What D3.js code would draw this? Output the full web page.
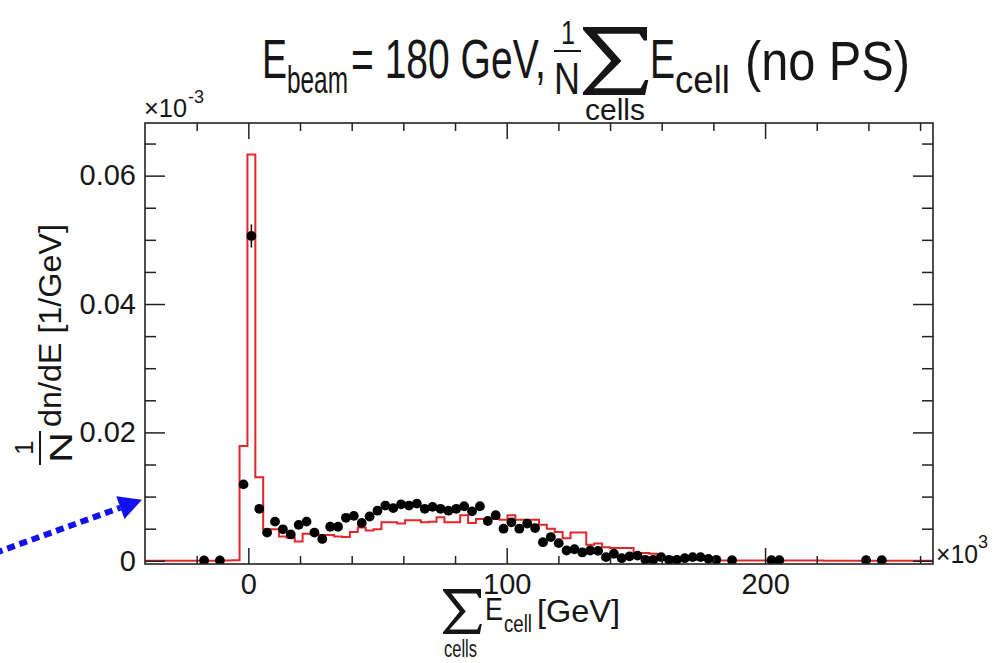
<!DOCTYPE html>
<html><head><meta charset="utf-8">
<script src="https://cdn.jsdelivr.net/npm/d3@7"></script>
<style>
body{margin:0;background:#fff;}
text{font-family:"Liberation Sans",Arial,Helvetica,sans-serif;fill:#161616;}
</style></head><body>
<svg id="c" width="1006" height="663"></svg>
<script>
// ---- binning of the histogram (x in GeV, shown as x10^3 MeV) ----
const binStart = -40, binWidth = 3.05, nBins = 100;

// ---- MC histogram (red), one value per bin, in axis units (x10^-3 1/GeV) ----
const mcValues = [
  0,0,0,0,0,0,0,0,0,0,
  0.00005,0.0001,0.0179,0.0633,0.0130,
  0.0049,0.0049,0.0038,0.0036,0.0030,
  0.0042,0.0042,0.0040,0.0040,0.0038,
  0.0037,0.0045,0.0052,0.0047,0.0049,
  0.0060,0.0060,0.0058,0.0063,0.0063,
  0.0060,0.0061,0.0068,0.0060,0.0060,
  0.0071,0.0059,0.0065,0.0065,0.0065,
  0.0064,0.0071,0.0064,0.0064,0.0064,
  0.0056,0.0050,0.0045,0.0035,0.0044,
  0.0044,0.0025,0.0027,0.0021,0.0020,
  0.0020,0.0020,0.0012,0.0012,0.0011,
  0.0006,0.00045,0.00035,0.00025,0.0002,
  0.00015,0.00012,0.0001,0.00003,0.00003,
  0.00003,0.00003,0.00003,0.00003,0.00003,
  0.00003,0.00003,0.00003,0.00003,0.00003,
  0.00003,0,0,0,0,
  0,0,0,0,0
];

// ---- data points (black): bin index, value, error ----
const dataBins = [7,9,
  12,13,14,15,16,17,18,19,20,21,22,23,24,25,26,27,28,29,30,31,32,33,34,35,36,37,38,39,40,
  41,42,43,44,45,46,47,48,49,50,51,52,53,54,55,56,57,58,59,60,61,62,63,64,65,66,67,68,69,70,71,72,
  74,79,80,91,93];
const dataValues = [0.00005,0.00005,
  0.0119,0.0506,0.0081,0.0044,0.0061,0.0049,0.0041,0.0056,0.0061,0.0044,0.0034,0.0053,0.0053,0.0067,
  0.0070,0.0059,0.0069,0.0078,0.0086,0.0082,0.0088,0.0086,0.0089,0.0081,0.0084,0.0081,0.0078,0.0081,0.0085,
  0.0077,0.0085,0.0062,0.0071,0.0050,0.0060,0.0050,0.0058,0.0051,0.0029,0.0037,0.00275,0.0016,0.0018,0.0013,
  0.0016,0.00155,0.00057,0.0011,0.0004,0.0007,0.0008,0.00015,0.00015,0.00057,0.00015,0.00015,0.0004,0.00057,
  0.00057,0.0003,0.00015,
  0.0001,0.0001,0.0001,0.0001,0.0001];
const dataErrors = dataBins.map(b => b === 13 ? 0.0018 : 0.0004);

// ---- axes ----
const xTicks = [0,100,200], xTickLabels = ["0","100","200"];
const xMinorTicks = [-20,20,40,60,80,120,140,160,180,220,240,260];
const yTicks = [0,0.02,0.04,0.06], yTickLabels = ["0","0.02","0.04","0.06"];
const yMinorTicks = [0.005,0.01,0.015,0.025,0.03,0.035,0.045,0.05,0.055,0.065];

const svg = d3.select("#c");
const F = {l:145, r:933, t:123, b:564};
const x = d3.scaleLinear().domain([-40,265]).range([F.l,F.r]);
const y = d3.scaleLinear().domain([-0.0005,0.0682]).range([F.b,F.t]);
const edges = d3.range(nBins+1).map(i => binStart + i*binWidth);

svg.append("defs").append("clipPath").attr("id","clip")
  .append("rect").attr("x",F.l).attr("y",F.t).attr("width",F.r-F.l).attr("height",F.b-F.t);

// histogram
const hpts = mcValues.map((v,i)=>[edges[i],v]);
hpts.push([edges[nBins], mcValues[nBins-1]]);
svg.append("path").attr("clip-path","url(#clip)")
  .attr("d", d3.line().x(d=>x(d[0])).y(d=>y(d[1])).curve(d3.curveStepAfter)(hpts))
  .attr("fill","none").attr("stroke","#e3262a").attr("stroke-width",2);

// data points
const R = 4.9;
const pts = dataBins.map((b,i)=>({cx:x(edges[b]+binWidth/2), v:dataValues[i], e:dataErrors[i]}));
const gp = svg.append("g").attr("clip-path","url(#clip)");
pts.forEach(p=>{
  const yc=y(p.v), yt=y(p.v+p.e), yb=y(p.v-p.e);
  if (yc-R-yt>0) gp.append("line").attr("x1",p.cx).attr("x2",p.cx).attr("y1",yt).attr("y2",yc-R).attr("stroke","#000").attr("stroke-width",1.5);
  if (yb-(yc+R)>0) gp.append("line").attr("x1",p.cx).attr("x2",p.cx).attr("y1",yc+R).attr("y2",yb).attr("stroke","#000").attr("stroke-width",1.5);
});
gp.selectAll("circle").data(pts).join("circle")
  .attr("cx",d=>d.cx).attr("cy",d=>y(d.v)).attr("r",R).attr("fill","#000");

// axes (ticks inward, ROOT style)
function styleAxis(g, fs){
  g.select(".domain").remove();
  g.selectAll("line").attr("stroke","#222").attr("stroke-width",1.5);
  g.selectAll("text").attr("font-size",fs).attr("fill","#161616")
   .attr("font-family",'"Liberation Sans",Arial,sans-serif');
}
styleAxis(svg.append("g").attr("transform",`translate(${F.l},0)`)
  .call(d3.axisLeft(y).tickValues(yTicks).tickSizeInner(-20).tickSizeOuter(0).tickPadding(9)
  .tickFormat((d,i)=>yTickLabels[i])), 29);
styleAxis(svg.append("g").attr("transform",`translate(${F.l},0)`)
  .call(d3.axisLeft(y).tickValues(yMinorTicks).tickSizeInner(-11).tickSizeOuter(0).tickFormat("")), 0);
styleAxis(svg.append("g").attr("transform",`translate(${F.r},0)`)
  .call(d3.axisRight(y).tickValues(yTicks).tickSizeInner(-20).tickSizeOuter(0).tickFormat("")), 0);
styleAxis(svg.append("g").attr("transform",`translate(${F.r},0)`)
  .call(d3.axisRight(y).tickValues(yMinorTicks).tickSizeInner(-11).tickSizeOuter(0).tickFormat("")), 0);
styleAxis(svg.append("g").attr("transform",`translate(0,${F.b})`)
  .call(d3.axisBottom(x).tickValues(xTicks).tickSizeInner(-16).tickSizeOuter(0).tickPadding(9)
  .tickFormat((d,i)=>xTickLabels[i])), 29);
styleAxis(svg.append("g").attr("transform",`translate(0,${F.b})`)
  .call(d3.axisBottom(x).tickValues(xMinorTicks).tickSizeInner(-8).tickSizeOuter(0).tickFormat("")), 0);
styleAxis(svg.append("g").attr("transform",`translate(0,${F.t})`)
  .call(d3.axisTop(x).tickValues(xTicks).tickSizeInner(-16).tickSizeOuter(0).tickFormat("")), 0);
styleAxis(svg.append("g").attr("transform",`translate(0,${F.t})`)
  .call(d3.axisTop(x).tickValues(xMinorTicks).tickSizeInner(-8).tickSizeOuter(0).tickFormat("")), 0);

// frame
svg.append("rect").attr("x",F.l).attr("y",F.t).attr("width",F.r-F.l).attr("height",F.b-F.t)
  .attr("fill","none").attr("stroke","#222").attr("stroke-width",1.6);

// helpers: text squeezed horizontally to a given width via a scale transform
function txt(parent, s, px, py, fs, w){
  const t = parent.append("text").attr("font-size",fs).text(s);
  if (w){
    const nat = t.node().getComputedTextLength();
    t.attr("transform",`translate(${px},${py}) scale(${w/nat},1)`);
  } else t.attr("x",px).attr("y",py);
  return t;
}
function sigma(g, x0, y0, w, h){
  const P = [[0,0],[1,0],[1.0,0.2],[0.95,0.2],[0.88,0.1],[0.22,0.1],[0.6,0.5],[0.17,0.9],[0.9,0.9],[0.97,0.78],[1.02,0.78],[0.97,1],[0,1],[0,0.96],[0.44,0.5],[0,0.04]];
  g.append("path").attr("d","M"+P.map(p=>[x0+p[0]*w, y0+p[1]*h].join(",")).join("L")+"Z").attr("fill","#161616");
}

// exponent labels
txt(svg, "\u00d710", F.l-1, 117, 26, 43);
txt(svg, "-3", 188, 103, 18);
txt(svg, "\u00d710", F.r+3, 563, 26, 42);
txt(svg, "3", 978, 548, 18);

// title
txt(svg, "E", 262, 78, 56, 25);
txt(svg, "beam", 287, 93, 38, 61);
txt(svg, "= 180 GeV,", 351, 78, 56, 195);
txt(svg, "1", 561, 44, 34, 14);
svg.append("line").attr("x1",554).attr("x2",581).attr("y1",51).attr("y2",51).attr("stroke","#161616").attr("stroke-width",2);
txt(svg, "N", 554, 94, 44, 26);
sigma(svg, 583, 27, 64, 68);
txt(svg, "E", 650, 78, 56, 25);
txt(svg, "cell", 675, 93, 38, 55);
txt(svg, "(no PS)", 745, 80, 56, 165);
txt(svg, "cells", 585, 120, 30, 60);

// x-axis title
sigma(svg, 443, 589, 38, 45);
txt(svg, "E", 485, 620, 32, 18);
txt(svg, "cell", 504, 632, 24, 28);
txt(svg, "[GeV]", 537, 622, 32, 83);
txt(svg, "cells", 444, 657, 24, 33);

// y-axis title (rotated)
const gy = svg.append("g").attr("transform","translate(0,463) rotate(-90)");
txt(gy, "N", 0, 72, 32, 31);
gy.append("line").attr("x1",-2).attr("x2",32).attr("y1",40).attr("y2",40).attr("stroke","#161616").attr("stroke-width",2);
txt(gy, "1", 8, 33, 26);
txt(gy, "dn/dE [1/GeV]", 36, 61, 32, 203);

// blue dotted arrow annotation pointing at the y axis
const tip = [F.l-3, y(0.0095)];
const ang = Math.atan2(553 - tip[1], -5 - tip[0]);
const L = 23, Wd = 12;
const base = [tip[0] + L*Math.cos(ang), tip[1] + L*Math.sin(ang)];
svg.append("line").attr("x1",-5).attr("y1",553).attr("x2",base[0]).attr("y2",base[1])
  .attr("stroke","#1212ee").attr("stroke-width",6).attr("stroke-dasharray","8,5");
const nx = -Math.sin(ang), ny = Math.cos(ang);
svg.append("path").attr("fill","#1212ee")
  .attr("d",`M${tip[0]},${tip[1]}L${base[0]+nx*Wd},${base[1]+ny*Wd}L${base[0]-nx*Wd},${base[1]-ny*Wd}Z`);
</script>
</body></html>
